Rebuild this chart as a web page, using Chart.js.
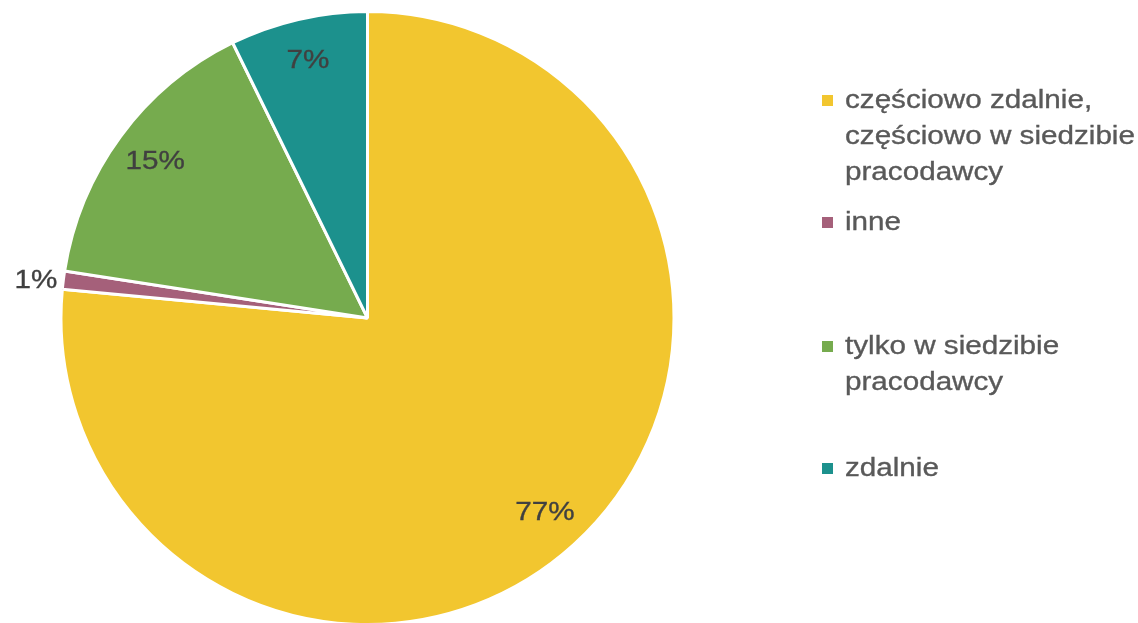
<!DOCTYPE html>
<html><head><meta charset="utf-8">
<script src="https://cdn.jsdelivr.net/npm/chart.js@4.4.1/dist/chart.umd.min.js"></script>
<style>
html,body{margin:0;padding:0;background:#fff;overflow:hidden;}
#wrap{position:relative;width:1138px;height:626px;}
</style></head><body>
<div id="wrap"><canvas id="c"></canvas></div>
<script>
const categories = [
  ["częściowo zdalnie,", "częściowo w siedzibie", "pracodawcy"],
  ["inne"],
  ["tylko w siedzibie", "pracodawcy"],
  ["zdalnie"]
];
const values = [76.5, 0.95, 15.3, 7.25];
const valueLabels = ["77%", "1%", "15%", "7%"];
const colors = ["#F2C62F", "#A5607A", "#76AB4E", "#1C918D"];

const FONT = '"Liberation Sans", Arial, sans-serif';
const XSCALE = 1.14;

function wideText(ctx, text, x, y, align) {
  ctx.save();
  ctx.translate(x, y);
  ctx.scale(XSCALE, 1);
  ctx.textAlign = align;
  ctx.fillText(text, 0, 0);
  ctx.lineWidth = 0.35;
  ctx.strokeStyle = ctx.fillStyle;
  ctx.strokeText(text, 0, 0);
  ctx.restore();
}

const labelPlugin = {
  id: 'sliceLabels',
  afterDatasetsDraw(chart) {
    const ctx = chart.ctx;
    const meta = chart.getDatasetMeta(0);
    ctx.save();
    ctx.font = '26px ' + FONT;
    ctx.fillStyle = '#404040';
    ctx.textBaseline = 'middle';
    meta.data.forEach((arc, i) => {
      const p = arc.getProps(['x','y','startAngle','endAngle','outerRadius'], true);
      const mid = (p.startAngle + p.endAngle) / 2;
      const small = values[i] < 3;
      const r = small ? p.outerRadius * 1.09 : p.outerRadius * 0.86;
      const x = p.x + Math.cos(mid) * r;
      const y = p.y + Math.sin(mid) * r + (small ? 4 : 0);
      wideText(ctx, valueLabels[i], x, y, 'center');
    });
    ctx.restore();
  }
};

const legendPlugin = {
  id: 'sideLegend',
  afterDraw(chart) {
    const ctx = chart.ctx;
    ctx.save();
    ctx.font = '26px ' + FONT;
    ctx.textBaseline = 'middle';
    const lineH = 36;
    const centers = [136, 222, 364, 468];
    const boxX = 822, textX = 845;
    categories.forEach((lines, i) => {
      const top = centers[i] - (lines.length - 1) * lineH / 2;
      ctx.fillStyle = colors[i];
      ctx.fillRect(boxX, top - 5, 11, 11);
      ctx.fillStyle = '#595959';
      lines.forEach((t, k) => wideText(ctx, t, textX, top + k * lineH + 1, 'left'));
    });
    ctx.restore();
  }
};

new Chart(document.getElementById('c'), {
  type: 'pie',
  data: {
    labels: categories.map(l => l.join(' ')),
    datasets: [{
      data: values,
      backgroundColor: colors,
      borderColor: '#ffffff',
      borderWidth: 3
    }]
  },
  options: {
    responsive: true,
    maintainAspectRatio: false,
    animation: false,
    layout: { padding: { left: 59, right: 462, top: 10, bottom: 0 } },
    plugins: { legend: { display: false }, tooltip: { enabled: false } }
  },
  plugins: [labelPlugin, legendPlugin]
});
</script>
</body></html>
